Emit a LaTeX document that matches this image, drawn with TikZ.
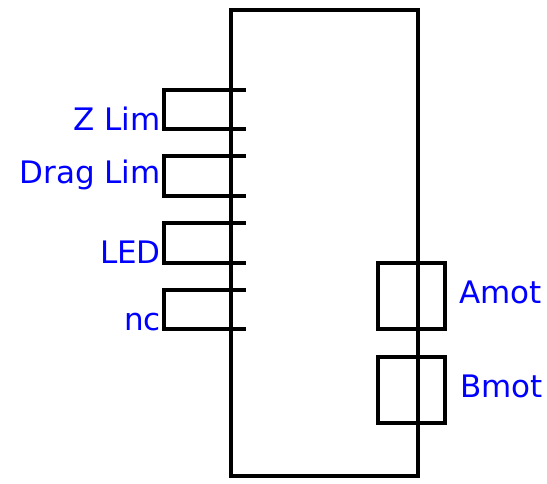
\documentclass[tikz,border=0pt]{standalone}
\usepackage{fontspec}
\setmainfont{DejaVu Sans}
\usepackage{tikz}
\usetikzlibrary{positioning}
\tikzset{wirestyle/.style = {draw = black, line width = 3.6pt}}
\tikzset{lbl/.style = {text = blue, inner sep = 0, font = \fontsize{31}{37}\selectfont}}

\begin{document}
\begin{tikzpicture}[x = 1pt, y = -1pt]
    \useasboundingbox (0, 0) rectangle (547, 483);

    \path [wirestyle] (231, 10) rectangle (418, 476);

    % left pins
    \foreach \ya/\yb/\yt/\nm/\txt in {90/129/130/zlim/Z Lim, 156/196/183/draglim/Drag Lim,
                                      223/263/263/led/LED, 290/329/330/nc/nc} {
        \path [wirestyle] (246, \ya) -- (164, \ya) -- (164, \yb) -- (246, \yb);
        \node [lbl, anchor = base east] (\nm) at (161, \yt) {\txt};
    }

    % motors
    \path [wirestyle] (378, 263) rectangle (445, 329);
    \node [lbl, anchor = base west] (amot) at (459, 303) {Amot};
    \path [wirestyle] (378, 357) rectangle (445, 423);
    \node [lbl, anchor = base west] (bmot) at (460, 397) {Bmot};

  \end{tikzpicture}
\end{document}
